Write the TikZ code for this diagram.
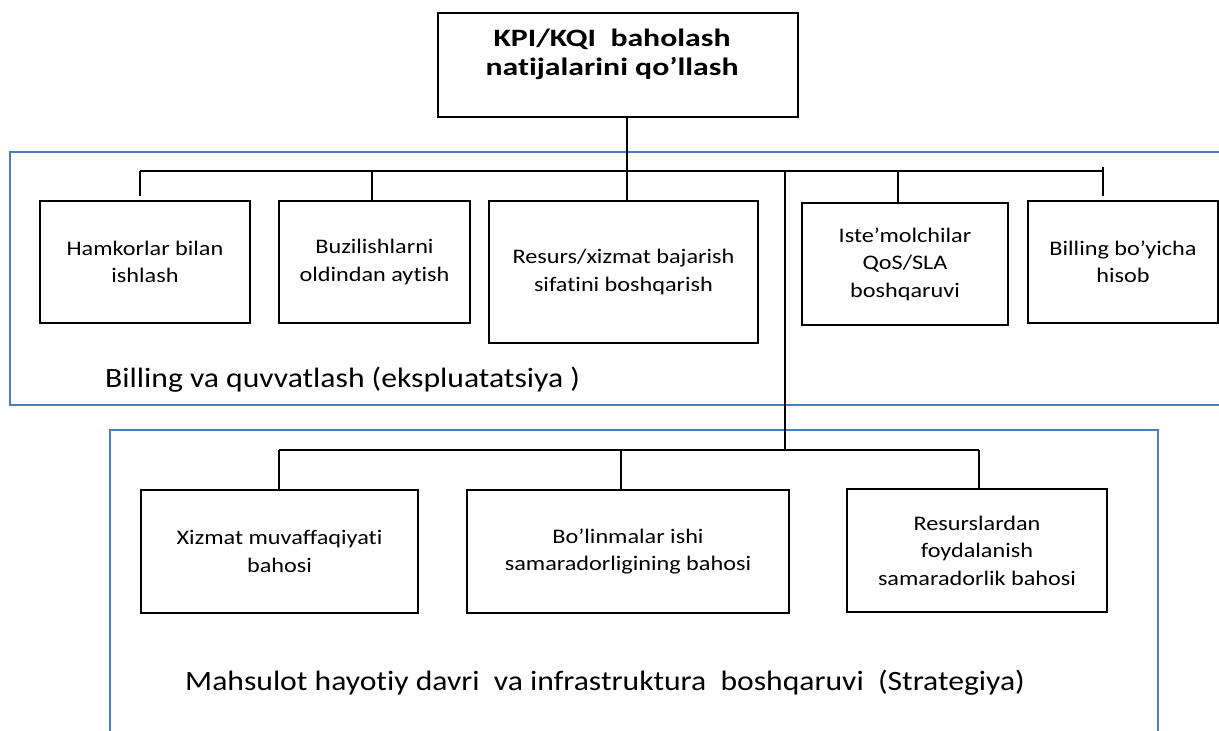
\documentclass[tikz,border=0pt]{standalone}
\usepackage{fontspec}
\setmainfont{Carlito}[Ligatures=NoCommon]
\newfontfamily\boxfont[FakeStretch=1.17,Ligatures=NoCommon]{Carlito}
\newfontfamily\titlefont[FakeStretch=1.27,Ligatures=NoCommon]{Carlito}
\newfontfamily\zonefont[FakeStretch=1.13,Ligatures=NoCommon]{Carlito}
\definecolor{zoneblue}{HTML}{4A7EBB}
\begin{document}
\begin{tikzpicture}[x=1pt,y=-1pt,
  box/.style={draw=black, line width=2.8pt, rectangle, inner sep=0pt, align=center,
    font=\boxfont\fontsize{20.7}{27.5}\selectfont},
  link/.style={draw=black, line width=2.6pt},
  zone/.style={draw=zoneblue, line width=2.4pt},
  zonelabel/.style={anchor=base west, inner sep=0pt, font=\zonefont\fontsize{28}{34}\selectfont},
  titletext/.style={inner sep=0pt, align=center, font=\titlefont\bfseries\fontsize{25}{28.5}\selectfont},
]
\useasboundingbox (0,0) rectangle (1219,731);

% the two zones
\draw[zone] (10,152) rectangle (1240,405);
\draw[zone] (110,430) rectangle (1158,770);

% top box
\node[box, minimum width=360pt, minimum height=104pt] (top) at (618,65) {};
\node[titletext] (toptext) at (612,54.5) {KPI/KQI\ \ baholash\\natijalarini qo’llash};

% upper row
\node[box, minimum width=210pt, minimum height=122pt] (hamk) at (145,262) {Hamkorlar bilan\\ishlash};
\node[box, minimum width=191pt, minimum height=122pt] (buz) at (374.5,262) {Buzilishlarni\\oldindan aytish};
\node[box, minimum width=269pt, minimum height=142pt] (res) at (623.5,272) {Resurs/xizmat bajarish\\sifatini boshqarish};
\node[box, minimum width=206pt, minimum height=122pt] (iste) at (905,264) {Iste’molchilar\\QoS/SLA\\boshqaruvi};
\node[box, minimum width=190pt, minimum height=122pt] (bill) at (1123,262) {Billing bo’yicha\\hisob};

% lower row
\node[box, minimum width=277pt, minimum height=123pt] (xiz) at (279.5,551.5) {Xizmat muvaffaqiyati\\bahosi};
\node[box, minimum width=322pt, minimum height=123pt] (bol) at (628,551.5) {Bo’linmalar ishi\\samaradorligining bahosi};
\node[box, minimum width=260pt, minimum height=123pt] (resl) at (977,550.5) {Resurslardan\\foydalanish\\samaradorlik bahosi};

% zone captions
\node[zonelabel] (lab1) at (105,387) {Billing va quvvatlash (ekspluatatsiya )};
\node[zonelabel] (lab2) at (185,690) {Mahsulot hayotiy davri\ \ va infrastruktura\ \ boshqaruvi\ \ (Strategiya)};

% bus junctions
\coordinate (ub1) at (140,171);
\coordinate (ub2) at (372,171);
\coordinate (ubt) at (627,171);
\coordinate (ubk) at (785,171);
\coordinate (ub4) at (898,171);
\coordinate (ub5) at (1103,171);
\coordinate (lbk) at (785,450);
\coordinate (lb1) at (279,450);
\coordinate (lb2) at (621,450);
\coordinate (lb3) at (979,450);

% connectors
\draw[link] (ub1) -- (ub5);
\draw[link] (top.south -| ubt) -- (res.north -| ubt);
\draw[link] (ub1) -- ([yshift=4pt]hamk.north -| ub1);
\draw[link] (ub2) -- (buz.north -| ub2);
\draw[link] (ub4) -- (iste.north -| ub4);
\draw[link] ([yshift=4pt]ub5) -- ([yshift=4pt]bill.north -| ub5);
\draw[link] (ubk) -- (lbk);
\draw[link] (lb1) -- (lb3);
\draw[link] (lb1) -- (xiz.north -| lb1);
\draw[link] (lb2) -- (bol.north -| lb2);
\draw[link] (lb3) -- (resl.north -| lb3);
\end{tikzpicture}
\end{document}
